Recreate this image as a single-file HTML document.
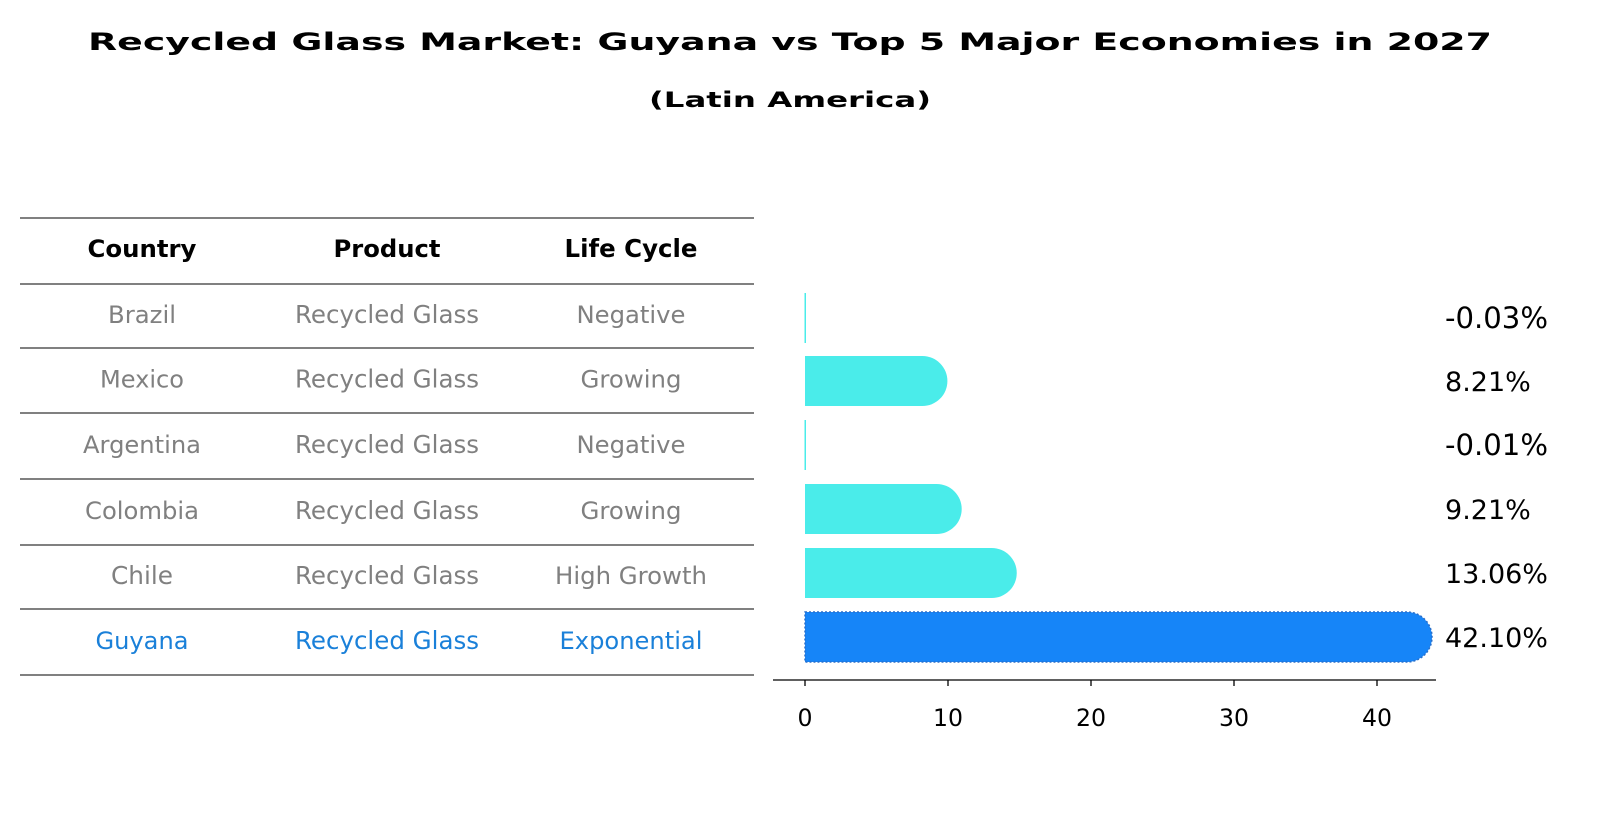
<!DOCTYPE html>
<html><head><meta charset="utf-8">
<style>
body{margin:0;background:#fff;font-family:"Liberation Sans","DejaVu Sans",sans-serif;}
#wrap{position:relative;width:1604px;height:823px;overflow:hidden;}
</style></head>
<body>
<div id="wrap">
<svg id="svg" width="1604" height="823" xmlns="http://www.w3.org/2000/svg" style="position:absolute;left:0;top:0">
  <text x="790" y="50" text-anchor="middle" font-family="DejaVu Sans, Liberation Sans, sans-serif" font-weight="bold" font-size="24" textLength="1404" lengthAdjust="spacingAndGlyphs">Recycled Glass Market: Guyana vs Top 5 Major Economies in 2027</text>
  <text x="790" y="107" text-anchor="middle" font-family="DejaVu Sans, Liberation Sans, sans-serif" font-weight="bold" font-size="21" textLength="282" lengthAdjust="spacingAndGlyphs">(Latin America)</text>
  <g id="table"></g>
  <g id="bars"></g>
</svg>
</div>
<script>
const countries=["Brazil","Mexico","Argentina","Colombia","Chile","Guyana"];
const products=["Recycled Glass","Recycled Glass","Recycled Glass","Recycled Glass","Recycled Glass","Recycled Glass"];
const lifeCycles=["Negative","Growing","Negative","Growing","High Growth","Exponential"];
const growth=[-0.03,8.21,-0.01,9.21,13.06,42.10];
const xTicks=[0,10,20,30,40];

const NS="http://www.w3.org/2000/svg";
function mk(tag,attrs,parent){const e=document.createElementNS(NS,tag);for(const k in attrs)e.setAttribute(k,attrs[k]);parent.appendChild(e);return e;}
const FONT="DejaVu Sans, Liberation Sans, sans-serif";
const S=1.0;

// table
const tbl=document.getElementById('table');
const lineYs=[218,284,348,413,479,545,609,675];
lineYs.forEach((y,i)=>{const l=mk('line',{x1:20,x2:754,y1:y,y2:y,stroke:'#000','stroke-width':1},tbl);

});
const colX=[142,387,631];
["Country","Product","Life Cycle"].forEach((h,i)=>{const t=mk('text',{x:colX[i],y:257,'text-anchor':'middle','font-family':FONT,'font-weight':'bold','font-size':15.5},tbl);t.textContent=h;

});
countries.forEach((c,i)=>{
  const y=(lineYs[i+1]+lineYs[i+2])/2+7;
  const col=c==="Guyana"?'#1a80d9':'#808080';
  [c,products[i],lifeCycles[i]].forEach((v,j)=>{
    const t=mk('text',{x:colX[j],y:y,'text-anchor':'middle','font-family':FONT,'font-size':17},tbl);
    t.setAttribute('fill',col);
    t.textContent=v;
    
    
  });
});

// bars
const g=document.getElementById('bars');
const x0=805, pxPer=14.3;
function xs(v){return x0+v*pxPer;}
const rowCenters=[318,381,445,509,573,637];
const bh=50, r=25;
growth.forEach((v,i)=>{
  const cy=rowCenters[i], top=cy-bh/2;
  const isG=countries[i]==="Guyana";
  const fill=isG?'#1685f8':'#4aecea';
  const xe=xs(Math.max(v,0));
  let el;
  if(xe-x0<1){
    el=mk('rect',{x:x0-0.5,y:top,width:1.5,height:bh,fill:fill},g);
  } else {
    const d=`M${x0},${top} L${xe},${top} A${r},${r} 0 0 1 ${xe},${top+bh} L${x0},${top+bh} Z`;
    el=mk('path',{d:d,fill:fill},g);
    if(isG){el.setAttribute('stroke','#2a6fc9');el.setAttribute('stroke-width','1.5');el.setAttribute('stroke-dasharray','2,2');}
  }
  
  
  const t=mk('text',{x:1445,y:cy+10,'font-family':FONT,'font-size':19},g);
  t.textContent=v.toFixed(2)+'%';
  
  
});
const ax=mk('line',{x1:773,x2:1436,y1:680,y2:680,stroke:'#000','stroke-width':1.3},g);


xTicks.forEach(v=>{
  const tk=mk('line',{x1:xs(v),x2:xs(v),y1:680,y2:686,stroke:'#000','stroke-width':1.3},g);
  
  
  const t=mk('text',{x:xs(v),y:726,'text-anchor':'middle','font-family':FONT,'font-size':19},g);
  t.textContent=v;
  
  
});
// fit text widths to measured reference widths for table/labels
function fit(sel,target){}
document.querySelectorAll('#table text').forEach(t=>{
  const ref={"Country":109,"Product":107,"Life Cycle":133,"Recycled Glass":184,"Brazil":68,"Mexico":84,"Argentina":118,"Colombia":114,"Chile":62,"Guyana":93,"Negative":109,"Growing":101,"High Growth":152,"Exponential":143}[t.textContent];
  if(ref){const w=t.getComputedTextLength();if(w>0)t.setAttribute('font-size',(parseFloat(t.getAttribute('font-size'))*ref/w).toFixed(2));}
});
document.querySelectorAll('#bars text').forEach(t=>{
  const w=t.getComputedTextLength();const n=t.textContent.length;
  const target=t.textContent.endsWith('%')?103*n/6:15*n;
  if(w>0)t.setAttribute('font-size',(parseFloat(t.getAttribute('font-size'))*target/w).toFixed(2));
});
</script>
</body></html>
